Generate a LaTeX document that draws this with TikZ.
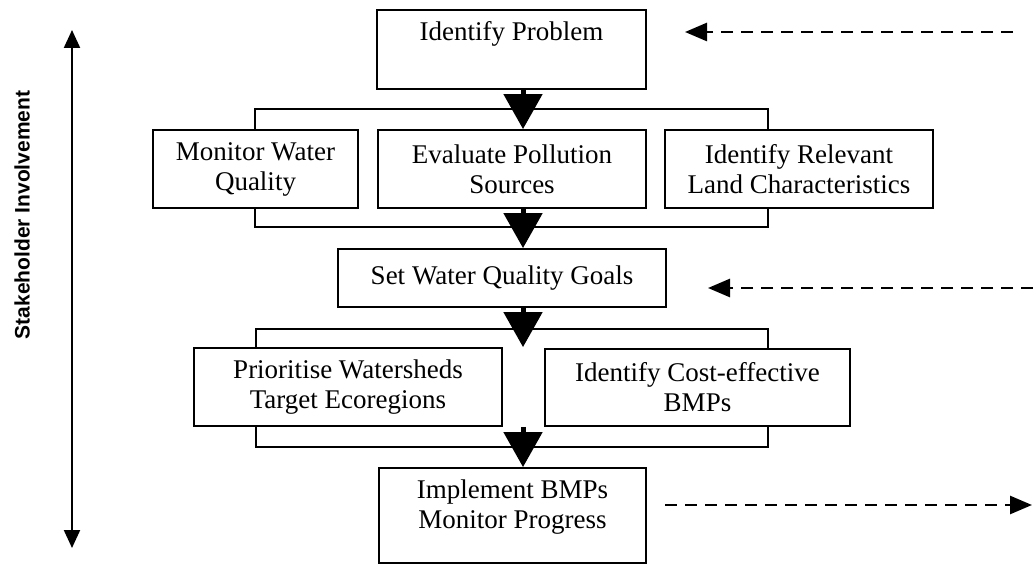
\documentclass[tikz,border=0pt]{standalone}
\usepackage{fontspec}
\setmainfont{Liberation Serif}
\setsansfont{Liberation Sans}
\usetikzlibrary{arrows.meta}
\begin{document}
\begin{tikzpicture}[x=1pt,y=-1pt,
  box/.style={draw, line width=1.8pt, fill=white, inner sep=0pt, align=center,
              font=\fontsize{27}{30}\selectfont},
  bracketline/.style={draw, line width=1.8pt},
  flow/.style={line width=5pt, -{Triangle[width=38pt,length=35pt]}},
  dasharrow/.style={line width=2.6pt, dash pattern=on 12pt off 8pt,
              -{Triangle[width=18pt,length=22pt]}},
  sidearrow/.style={line width=2.2pt, {Triangle[width=16pt,length=18pt]}-{Triangle[width=16pt,length=18pt]}},
  sidelabel/.style={rotate=90, font=\sffamily\bfseries\fontsize{21}{25}\selectfont}
]
\useasboundingbox (0,0) rectangle (1033,564);

% group brackets (behind the boxes)
\draw[bracketline] (255,109) rectangle (768,227);
\draw[bracketline] (256,329) rectangle (768,447);

% boxes
\node[box] (IP) at (511.5,49.5)
  {\parbox[c][79pt][t]{269pt}{\centering\rule{0pt}{31pt}Identify Problem}};
\node[box, minimum width=205pt, minimum height=78pt] (MW) at (255.5,169)
  {Monitor Water\\Quality};
\node[box, minimum width=268pt, minimum height=78pt] (EP) at (512,169)
  {Evaluate Pollution\\Sources};
\node[box, minimum width=268pt, minimum height=78pt] (IR) at (799,169)
  {Identify Relevant\\Land Characteristics};
\node[box, minimum width=328pt, minimum height=58pt] (SW) at (502,278)
  {Set Water Quality Goals};
\node[box, minimum width=308pt, minimum height=78pt] (PW) at (348,387)
  {Prioritise Watersheds\\Target Ecoregions};
\node[box, minimum width=305pt, minimum height=77pt] (CE) at (697.5,387.5)
  {Identify Cost-effective\\BMPs};
\node[box] (IM) at (512.5,515.5)
  {\parbox[c][95pt][t]{267pt}{\centering\rule{0pt}{30pt}Implement BMPs\\Monitor Progress}};

% flow arrows
\coordinate (ax) at (523,0);
\draw[flow] (IP.south -| ax) -- (EP.north -| ax);
\draw[flow] (EP.south -| ax) -- (SW.north -| ax);
\draw[flow] (SW.south -| ax) -- (PW.north -| ax);
\draw[flow] (PW.south -| ax) -- (IM.north -| ax);

% dashed feedback arrows
\coordinate (d1s) at (1013,32);
\coordinate (d1e) at (685,32);
\coordinate (d2s) at (1033,288);
\coordinate (d2e) at (708,288);
\coordinate (d3s) at (665,505);
\coordinate (d3e) at (1032,505);
\draw[dasharrow] (d1s) -- (d1e);
\draw[dasharrow] (d2s) -- (d2e);
\draw[dasharrow] (d3s) -- (d3e);

% stakeholder axis
\coordinate (st) at (72,30);
\coordinate (sb) at (72,548);
\draw[sidearrow] (st) -- (sb);
\node[sidelabel] (SL) at (22,215) {Stakeholder Involvement};
\end{tikzpicture}
\end{document}
